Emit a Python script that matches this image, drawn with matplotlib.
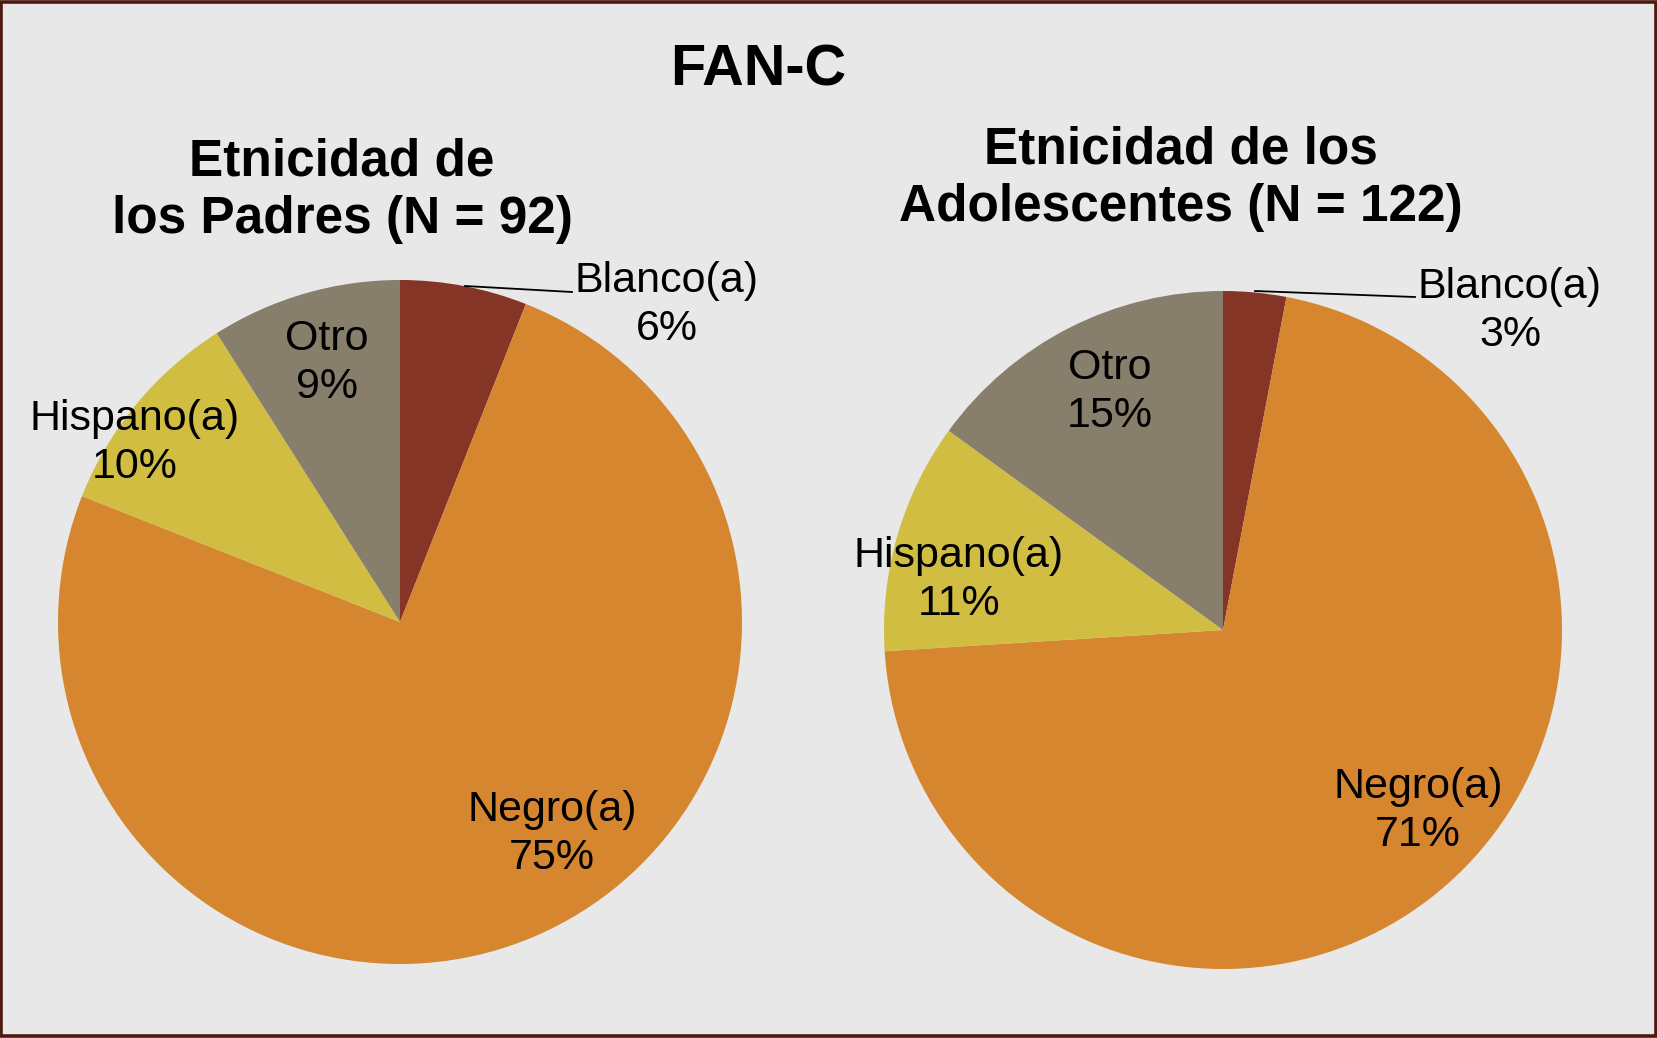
import matplotlib
matplotlib.use("Agg")
import matplotlib.pyplot as plt
from matplotlib.patches import Rectangle

plt.rcParams['font.family'] = ['Liberation Sans', 'DejaVu Sans']

# ---- data ----
categories = ["Blanco(a)", "Negro(a)", "Hispano(a)", "Otro"]
padres_pct = [6, 75, 10, 9]
adolescentes_pct = [3, 71, 11, 15]
main_title = "FAN-C"
title_padres = "Etnicidad de\nlos Padres (N = 92)"
title_adol = "Etnicidad de los\nAdolescentes (N = 122)"
colors = ["#843526", "#d5862e", "#d0bd42", "#877e6b"]

W, H = 1658, 1038
fig = plt.figure(figsize=(W / 100, H / 100), dpi=100)
fig.patch.set_facecolor("#e8e8e8")
ax = fig.add_axes([0, 0, 1, 1])
ax.set_xlim(0, W)
ax.set_ylim(0, H)
ax.set_aspect("equal")
ax.axis("off")


def Y(y):
    return H - y


# layout (pixel positions, top-left origin)
pies = [
    dict(vals=padres_pct, center=(400, 622), r=342, title=title_padres,
         title_xy=(342, 191),
         label_xy=[(667, 305), (552, 834), (135, 443), (327, 363)],
         leader=[(465, 286), (572, 292)]),
    dict(vals=adolescentes_pct, center=(1223, 630), r=339, title=title_adol,
         title_xy=(1181, 179),
         label_xy=[(1510, 311), (1418, 811), (959, 580), (1110, 392)],
         leader=[(1255, 291), (1415, 297)]),
]

for p in pies:
    cx, cy = p["center"]
    ax.pie(p["vals"], colors=colors, startangle=90, counterclock=False,
           center=(cx, Y(cy)), radius=p["r"], frame=True,
           wedgeprops=dict(linewidth=0))
    for cat, v, (lx, ly) in zip(categories, p["vals"], p["label_xy"]):
        ax.text(lx, Y(ly), f"{cat}\n{v}%", ha="center", va="center",
                fontsize=31, linespacing=1.24, color="black")
    (x0, y0), (x1, y1) = p["leader"]
    ax.plot([x0, x1], [Y(y0), Y(y1)], color="black", lw=1.3)
    tx, ty = p["title_xy"]
    ax.text(tx, Y(ty), p["title"], ha="center", va="center", fontsize=37,
            fontweight="bold", linespacing=1.22)

ax.set_xlim(0, W)
ax.set_ylim(0, H)
ax.axis("off")

ax.text(758, Y(70), main_title, ha="center", va="center", fontsize=41.5,
        fontweight="bold")

ax.add_patch(Rectangle((1.5, 1.5), W - 3, H - 3, fill=False,
                       edgecolor="#4d1a12", linewidth=2.6, zorder=10))

fig.savefig("out.png", dpi=100, facecolor=fig.get_facecolor())
